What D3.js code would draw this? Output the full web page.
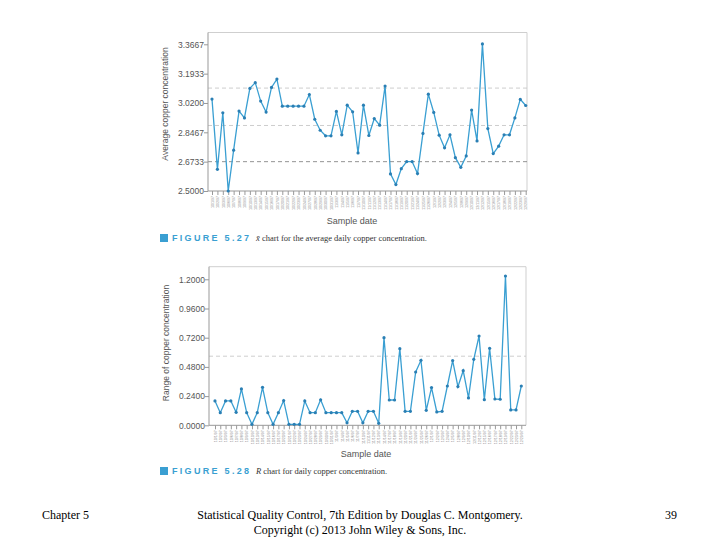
<!DOCTYPE html>
<html>
<head>
<meta charset="utf-8">
<script src="https://cdn.jsdelivr.net/npm/d3@7"></script>
<style>
  html, body { margin: 0; padding: 0; background: #fff; }
  svg { display: block; }
</style>
</head>
<body>
<svg id="chart" width="720" height="540"></svg>
<script>
// Daily average copper concentration (x-bar chart, Figure 5.27)
const xbarValues = [
    3.043, 2.628, 2.962, 2.500, 2.741, 2.972, 2.932, 3.106, 3.140, 3.031,
    2.966, 3.112, 3.161, 3.001, 3.001, 3.001, 3.001, 3.001, 3.070, 2.924,
    2.859, 2.826, 2.826, 2.970, 2.832, 3.007, 2.968, 2.725, 3.007, 2.828,
    2.928, 2.889, 3.120, 2.601, 2.538, 2.632, 2.674, 2.674, 2.603, 2.840,
    3.072, 2.964, 2.830, 2.755, 2.832, 2.697, 2.640, 2.707, 2.978, 2.796,
    3.369, 2.869, 2.721, 2.765, 2.832, 2.832, 2.932, 3.041, 3.005
];

// Daily range of copper concentration (R chart, Figure 5.28)
const rangeValues = [
    0.200, 0.104, 0.200, 0.200, 0.107, 0.299, 0.104, 0.008, 0.104, 0.312,
    0.104, 0.008, 0.104, 0.203, 0.008, 0.008, 0.008, 0.200, 0.104, 0.104,
    0.210, 0.104, 0.104, 0.104, 0.104, 0.020, 0.115, 0.115, 0.020, 0.115,
    0.115, 0.016, 0.720, 0.208, 0.208, 0.630, 0.115, 0.115, 0.438, 0.534,
    0.123, 0.310, 0.110, 0.115, 0.323, 0.532, 0.318, 0.449, 0.225, 0.542,
    0.734, 0.211, 0.633, 0.216, 0.214, 1.227, 0.126, 0.126, 0.323
];

// Sample dates (x-axis tick labels)
const sampleDates = [
    "10/1/97", "10/2/97", "10/3/97", "10/6/97", "10/7/97", "10/8/97", "10/9/97", "10/10/97",
    "10/13/97", "10/14/97", "10/15/97", "10/16/97", "10/17/97", "10/20/97", "10/21/97",
    "10/22/97", "10/23/97", "10/24/97", "10/27/97", "10/28/97", "10/29/97", "10/30/97",
    "10/31/97", "11/3/97", "11/4/97", "11/5/97", "11/6/97", "11/7/97", "11/10/97",
    "11/11/97", "11/12/97", "11/13/97", "11/14/97", "11/17/97", "11/18/97", "11/19/97",
    "11/20/97", "11/21/97", "11/24/97", "11/25/97", "11/26/97", "12/1/97", "12/2/97",
    "12/3/97", "12/4/97", "12/5/97", "12/8/97", "12/9/97", "12/10/97", "12/11/97",
    "12/12/97", "12/15/97", "12/16/97", "12/17/97", "12/18/97", "12/19/97", "12/22/97",
    "12/23/97", "12/29/97"
];

const xbarTicks = [2.5000, 2.6733, 2.8467, 3.0200, 3.1933, 3.3667];
const xbarLimits = [3.108, 2.887, 2.6733];
const rangeTicks = [0.0000, 0.2400, 0.4800, 0.7200, 0.9600, 1.2000];
const rangeLimits = [0.568];

const svg = d3.select('#chart');
const lineColor = '#3a9fd2';
const dotColor = '#2a7fb4';
const sans = '"Liberation Sans", Arial, sans-serif';
const serif = '"Liberation Serif", "Times New Roman", serif';

/**
 * Draw one control chart panel
 */
function drawPanel(p) {
    const g = svg.append('g');

    const x = d3.scaleLinear().domain([0, p.values.length - 1]).range([p.x0, p.x1]);
    const y = d3.scaleLinear().domain(p.domain).range([p.yBottom, p.yTop]);

    // Light frame top / right
    g.append('path')
        .attr('d', `M${p.left},${p.frameTop} H${p.right} V${p.yBottom}`)
        .attr('fill', 'none')
        .attr('stroke', '#cfcfcf')
        .attr('stroke-width', 1);

    // Control limit lines
    g.selectAll('line.limit')
        .data(p.limits)
        .enter()
        .append('line')
        .attr('class', 'limit')
        .attr('x1', p.left)
        .attr('x2', p.right)
        .attr('y1', d => y(d))
        .attr('y2', d => y(d))
        .attr('stroke', (d, i) => p.limitColors[i])
        .attr('stroke-width', 0.9)
        .attr('stroke-dasharray', '4,3');

    // Y axis
    const yAxis = d3.axisLeft(y)
        .tickValues(p.ticks)
        .tickSize(4)
        .tickFormat(d3.format('.4f'));
    const ya = g.append('g')
        .attr('transform', `translate(${p.left},0)`)
        .call(yAxis);
    ya.select('.domain')
        .attr('d', `M0,${p.frameTop}V${p.yBottom}`)
        .attr('stroke', '#999');
    ya.selectAll('.tick line').attr('stroke', '#999');
    ya.selectAll('.tick text')
        .attr('x', -4)
        .attr('fill', '#555')
        .attr('font-family', sans)
        .attr('font-size', 8.5);

    // X axis with one tick per sample
    const xAxis = d3.axisBottom(x)
        .tickValues(d3.range(p.values.length))
        .tickSize(4)
        .tickFormat(i => sampleDates[i]);
    const xa = g.append('g')
        .attr('transform', `translate(0,${p.yBottom})`)
        .call(xAxis);
    xa.select('.domain')
        .attr('d', `M${p.left},0H${p.right}`)
        .attr('stroke', '#999');
    xa.selectAll('.tick line').attr('stroke', '#999');
    xa.selectAll('.tick text')
        .attr('fill', '#888')
        .attr('font-family', sans)
        .attr('font-size', 3.6)
        .attr('text-anchor', 'end')
        .attr('dy', '0.35em')
        .attr('transform', 'translate(0,5) rotate(-90)')
        .attr('x', 0)
        .attr('y', 0);

    // Series line
    const line = d3.line()
        .x((d, i) => x(i))
        .y(d => y(d));
    g.append('path')
        .datum(p.values)
        .attr('d', line)
        .attr('fill', 'none')
        .attr('stroke', lineColor)
        .attr('stroke-width', 1.3);

    // Points
    g.selectAll('circle')
        .data(p.values)
        .enter()
        .append('circle')
        .attr('cx', (d, i) => x(i))
        .attr('cy', d => y(d))
        .attr('r', 1.6)
        .attr('fill', dotColor);

    // Axis titles
    g.append('text')
        .attr('transform', `translate(${p.yTitleX},${p.yTitleY}) rotate(-90)`)
        .attr('text-anchor', 'middle')
        .attr('dominant-baseline', 'middle')
        .attr('font-family', sans)
        .attr('font-size', 8.5)
        .attr('fill', '#555')
        .text(p.yTitle);

    g.append('text')
        .attr('x', p.xTitleX)
        .attr('y', p.xTitleY)
        .attr('text-anchor', 'middle')
        .attr('dominant-baseline', 'middle')
        .attr('font-family', sans)
        .attr('font-size', 9)
        .attr('fill', '#555')
        .text('Sample date');

    // Figure caption
    g.append('rect')
        .attr('x', 160)
        .attr('y', p.captionY - 7)
        .attr('width', 8)
        .attr('height', 8)
        .attr('fill', lineColor);
    g.append('text')
        .attr('x', 172)
        .attr('y', p.captionY)
        .attr('font-family', sans)
        .attr('font-weight', 'bold')
        .attr('font-size', 9)
        .attr('letter-spacing', 2.3)
        .attr('fill', lineColor)
        .text(p.figure);
    g.append('text')
        .attr('x', 256)
        .attr('y', p.captionY)
        .attr('font-family', serif)
        .attr('font-size', 8.5)
        .attr('fill', '#333')
        .html(p.caption);
}

drawPanel({
    values: xbarValues,
    domain: [2.5, 3.3667],
    ticks: xbarTicks,
    limits: xbarLimits,
    limitColors: ['#c8c8c8', '#c8c8c8', '#888'],
    left: 208, right: 527, frameTop: 32.5,
    x0: 212, x1: 525.7,
    yTop: 44.3, yBottom: 191,
    yTitle: 'Average copper concentration',
    yTitleX: 166, yTitleY: 104,
    xTitleX: 352, xTitleY: 222,
    captionY: 241,
    figure: 'FIGURE 5.27',
    caption: '<tspan font-style="italic">x&#772;</tspan> chart for the average daily copper concentration.'
});

drawPanel({
    values: rangeValues,
    domain: [0, 1.2],
    ticks: rangeTicks,
    limits: rangeLimits,
    limitColors: ['#c8c8c8'],
    left: 209, right: 526, frameTop: 266.7,
    x0: 215, x1: 521.3,
    yTop: 279.3, yBottom: 425.3,
    yTitle: 'Range of copper concentration',
    yTitleX: 167, yTitleY: 343,
    xTitleX: 366, xTitleY: 455,
    captionY: 474,
    figure: 'FIGURE 5.28',
    caption: '<tspan font-style="italic">R</tspan> chart for daily copper concentration.'
});

// Slide footer
const footer = svg.append('g')
    .attr('font-family', serif)
    .attr('font-size', 12)
    .attr('fill', '#000');
footer.append('text').attr('x', 42).attr('y', 519).text('Chapter 5');
footer.append('text').attr('x', 360).attr('y', 519).attr('text-anchor', 'middle')
    .text('Statistical Quality Control, 7th Edition by Douglas C. Montgomery.');
footer.append('text').attr('x', 360).attr('y', 534).attr('text-anchor', 'middle')
    .text('Copyright (c) 2013  John Wiley & Sons, Inc.');
footer.append('text').attr('x', 677).attr('y', 519).attr('text-anchor', 'end').text('39');
</script>
</body>
</html>
